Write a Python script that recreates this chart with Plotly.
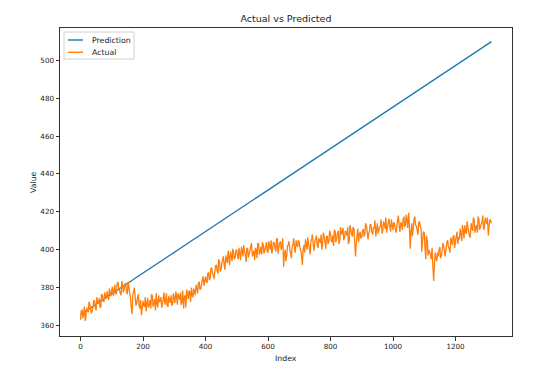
import plotly.graph_objects as go

# Prediction line (straight) endpoints
pred_index = [0, 1315]
pred_values = [365.8, 509.8]

# Actual series at index 0, 5, 10, ...
actual_values_a = [
    363, 368.5, 366, 362.5, 369.5, 367, 371, 366.5, 370, 373, 368, 371.5, 374.5, 370, 376, 372.5, 375, 378, 373.5, 377,
    379, 375.5, 381.5, 377, 383, 378.5, 376, 381, 379.5, 382.5, 376.5, 380, 374, 366, 378.5, 375, 372, 376.5, 369, 365.5,
    373, 370, 367.5, 374.5, 371, 369, 375.5, 372, 368, 371.5, 376, 373, 369.5, 374.5, 371, 377, 370, 373.5, 376, 371.5,
    374.5, 378, 371, 375.5, 377.5, 372.5, 369, 376, 379, 374, 377.5, 380, 375, 378, 381.5, 377, 383, 379.5, 384.5, 381,
    386, 382.5, 388, 385, 390.5, 386.5, 389, 392, 387.5, 393.5, 390, 395, 391.5, 397, 393, 396, 399, 394, 398.5, 396,
    400, 395, 398, 401.5, 396.5, 399, 393.5, 400.5, 398, 402, 396.5, 399.5, 401, 395.5, 403, 399, 397.5, 402.5, 400, 404,
    398.5, 402, 405, 400.5, 403.5, 399, 406, 401.5, 404.5, 402, 391, 400, 397, 402.5, 399.5, 395.5, 403, 400, 405, 401.5,
    404, 399.5, 392, 402.5, 405.5, 400, 403, 397.5, 406, 402, 404.5, 407.5, 401, 405, 408, 403.5, 406.5, 400.5, 407, 404.5,
    408.5, 404, 402, 409.5, 406, 410, 405.5, 408, 411.5, 406.5, 409, 412, 404.5, 410.5, 407, 411, 396.5, 407.5, 404, 409.5,
    406.5, 411, 408.5, 412.5, 405.5, 410, 413, 408, 411.5, 407, 414, 410.5, 412.5, 408.5, 415, 411, 409, 414.5, 412, 416,
    410.5, 413.5, 409, 416, 412, 414.5, 410.5, 417.5, 413, 415.5, 419.5, 400.5, 414, 411.5, 417.5, 412.5, 408, 415, 411, 405,
    409, 395, 404.5, 400, 397.5, 401, 383.5, 398.5, 394, 396.5, 401.5, 397, 403.5, 399, 401, 405, 400.5, 406.5, 402.5, 407.5,
    404, 409.5, 406.5, 411, 404.5, 410, 413, 408.5, 411.5, 407, 414, 410, 415.5, 411.5, 409, 416, 412, 414.5, 410.5, 417,
    413.5, 407.5, 416, 414,
]
# Actual series at index 2, 7, 12, ...
actual_values_b = [
    367.5, 364, 370, 364.5, 368, 372.5, 369, 367.5, 373, 369.5, 375, 372, 369.5, 376.5, 373, 377.5, 374, 376, 379.5, 375.5,
    380.5, 378, 376.5, 382, 380, 377, 383.5, 377.5, 381.5, 378, 383, 377.5, 370, 375.5, 380, 370.5, 374.5, 371, 373.5, 368.5,
    370.5, 375, 371.5, 369.5, 373.5, 376.5, 370, 374, 377, 369.5, 372.5, 375, 371.5, 377.5, 373, 370.5, 375.5, 372, 370.5, 377,
    372, 375.5, 377, 373.5, 371, 378.5, 375, 369.5, 376.5, 378.5, 372.5, 376, 379.5, 376, 380, 382.5, 379, 381.5, 386, 383,
    383.5, 387.5, 384, 390, 388, 384.5, 391.5, 389, 395, 388.5, 392.5, 396.5, 389.5, 394.5, 399.5, 392, 397, 400.5, 395, 399.5,
    397, 401, 394.5, 400, 402.5, 397.5, 401, 396, 399.5, 403.5, 398, 394.5, 400, 403.5, 397.5, 401.5, 404, 398, 401.5, 399,
    404.5, 400, 398, 404, 401, 405.5, 398, 403.5, 400, 406, 397.5, 394, 402, 404.5, 398.5, 401.5, 406, 398.5, 402.5, 405,
    401, 397, 400, 398.5, 403, 406.5, 401, 404, 408, 399.5, 405.5, 402.5, 406, 403.5, 400, 409, 404.5, 407, 403, 410,
    405, 407.5, 410.5, 404, 408.5, 403, 412, 409, 405, 410, 407.5, 403, 413, 408.5, 412, 405, 402.5, 411, 408, 406,
    409.5, 407, 414, 410, 408.5, 413.5, 409.5, 411.5, 415.5, 410.5, 408.5, 412, 416, 410, 413.5, 417, 411.5, 416.5, 409.5, 413,
    414.5, 411, 412.5, 418, 409.5, 413.5, 416, 412, 418.5, 411.5, 414, 409, 407, 416, 413, 410.5, 414, 412.5, 399, 409.5,
    402, 407.5, 397, 399, 395, 393, 391, 396, 398.5, 400, 395.5, 399.5, 402, 396.5, 404, 401.5, 398.5, 404.5, 407, 401,
    407, 403, 405.5, 408.5, 413, 406, 409.5, 415, 410, 406.5, 412, 417, 409, 413, 417.5, 410.5, 413.5, 418, 411.5, 415,
    417, 411.5, 415.5,
]
index_a = list(range(0, 5 * len(actual_values_a), 5))
index_b = list(range(2, 2 + 5 * len(actual_values_b), 5))
merged = sorted(zip(index_a + index_b, actual_values_a + actual_values_b))
actual_index = [p[0] for p in merged]
actual_values = [p[1] for p in merged]

x_ticks = [0, 200, 400, 600, 800, 1000, 1200]
y_ticks = [360, 380, 400, 420, 440, 460, 480, 500]
legend_labels = ["Prediction", "Actual"]
legend_colors = ["#1f77b4", "#ff7f0e"]

FONT = "DejaVu Sans"
W, H = 532, 361  # page body adds an 8px offset
ML, MR, MT, MB = 52, 28, 20, 33
PW, PH = W - ML - MR, H - MT - MB
PX0, PY1 = ML + 8, H - MB + 8  # plot-area left and bottom, in page pixels


def px(x):
    return (x - PX0) / PW


def py(y):
    return (PY1 - y) / PH


fig = go.Figure()
fig.add_trace(go.Scatter(x=pred_index, y=pred_values, mode="lines", name=legend_labels[0],
                         line=dict(color=legend_colors[0], width=1.3)))
fig.add_trace(go.Scatter(x=actual_index, y=actual_values, mode="lines", name=legend_labels[1],
                         line=dict(color=legend_colors[1], width=1.3, simplify=False)))

axis_common = dict(showline=True, mirror=True, linecolor="#333", linewidth=1,
                   ticks="outside", ticklen=3.5, tickcolor="#333", showgrid=False,
                   zeroline=False, tickfont=dict(family=FONT, size=7.2, color="#222"))

# matplotlib-style compact legend
shapes = [dict(type="rect", xref="paper", yref="paper", x0=px(64), x1=px(134), y0=py(59), y1=py(32),
               line=dict(color="#d0d0d0", width=1), fillcolor="rgba(255,255,255,0.85)", layer="above")]
annotations = []
for i, (lab, col) in enumerate(zip(legend_labels, legend_colors)):
    yy = 40 + i * 12.3
    shapes.append(dict(type="line", xref="paper", yref="paper", x0=px(68), x1=px(83), y0=py(yy), y1=py(yy),
                       line=dict(color=col, width=1.4), layer="above"))
    annotations.append(dict(text=lab, x=px(90), y=py(yy), xref="paper", yref="paper", showarrow=False,
                            xanchor="left", yanchor="middle",
                            font=dict(family=FONT, size=7.8, color="#222")))

annotations += [
    dict(text="Index", x=0.5, y=py(358), xref="paper", yref="paper",
         showarrow=False, xanchor="center", yanchor="middle",
         font=dict(family=FONT, size=7.8, color="#222")),
    dict(text="Value", x=px(33), y=0.5, xref="paper", yref="paper",
         showarrow=False, xanchor="center", yanchor="middle", textangle=-90,
         font=dict(family=FONT, size=7.8, color="#222")),
]

fig.update_layout(
    width=W, height=H,
    margin=dict(l=ML, r=MR, t=MT, b=MB, autoexpand=False),
    plot_bgcolor="white", paper_bgcolor="white",
    font=dict(family=FONT, color="#222"),
    title=dict(text="Actual vs Predicted", x=0.5, xref="paper", xanchor="center",
               y=1 - 11 / H, yref="container", yanchor="middle",
               font=dict(family=FONT, size=9.5, color="#222")),
    xaxis=dict(range=[-65.75, 1380.75], tickvals=x_ticks, **axis_common),
    yaxis=dict(range=[354.5, 517], tickvals=y_ticks, **axis_common),
    showlegend=False,
    shapes=shapes,
    annotations=annotations,
)

fig.write_html("out.html")
